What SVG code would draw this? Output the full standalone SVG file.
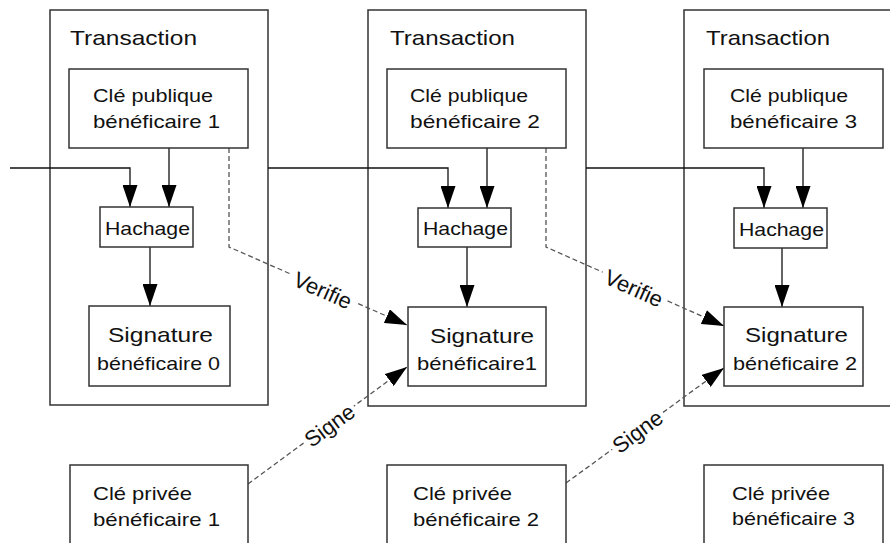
<svg xmlns="http://www.w3.org/2000/svg" width="890" height="543" viewBox="0 0 890 543">
<defs>
<style>
.box{fill:#fff;stroke:#333;stroke-width:1.5}
.t{font-family:"Liberation Sans",Arial,sans-serif;fill:#111}
.title{font-size:21px}
.n{font-size:18.5px}
.sig{font-size:21px}
.ben{font-size:19px}
.lbl{font-size:22px;text-anchor:middle}
.edge{fill:none;stroke:#111;stroke-width:1.3}
.dash{fill:none;stroke:#555;stroke-width:1.3;stroke-dasharray:5 3}
</style>
<marker id="arr" markerUnits="userSpaceOnUse" markerWidth="22" markerHeight="15" refX="22" refY="7.5" orient="auto">
<path d="M0,0 L22,7.5 L0,15 z" fill="#000"/>
</marker>
</defs>
<rect width="890" height="543" fill="#fff"/>

<g id="transaction1"><rect class="box" x="50" y="10" width="218" height="395"/><text class="t title" x="70" y="45" textLength="127" lengthAdjust="spacingAndGlyphs">Transaction</text></g>
<g id="transaction2"><rect class="box" x="368" y="10" width="218" height="396"/><text class="t title" x="390" y="45" textLength="125" lengthAdjust="spacingAndGlyphs">Transaction</text></g>
<g id="transaction3"><rect class="box" x="684" y="10" width="240" height="396"/><text class="t title" x="706" y="45" textLength="124" lengthAdjust="spacingAndGlyphs">Transaction</text></g>

<g id="connectors">
<path class="edge" d="M10,168 H130 V207" marker-end="url(#arr)"/>
<path class="edge" d="M169,148 V207" marker-end="url(#arr)"/>
<path class="edge" d="M150,247 V306" marker-end="url(#arr)"/>
<path class="edge" d="M268,168 H448 V208" marker-end="url(#arr)"/>
<path class="edge" d="M487,148 V208" marker-end="url(#arr)"/>
<path class="edge" d="M467,247 V307" marker-end="url(#arr)"/>
<path class="edge" d="M586,168 H764 V208" marker-end="url(#arr)"/>
<path class="edge" d="M803,148 V208" marker-end="url(#arr)"/>
<path class="edge" d="M782,248 V307" marker-end="url(#arr)"/>
<path class="dash" d="M229,148 V247 L407,325" marker-end="url(#arr)"/>
<path class="dash" d="M546,148 V247 L724,326" marker-end="url(#arr)"/>
<path class="dash" d="M248,484 L407,367" marker-end="url(#arr)"/>
<path class="dash" d="M566,483 L724,368" marker-end="url(#arr)"/>
<g transform="translate(323,290) rotate(23.8)"><rect x="-35" y="-11" width="70" height="22" fill="#fff"/><text class="t lbl" x="0" y="8">Verifie</text></g>
<g transform="translate(634,288) rotate(24)"><rect x="-35" y="-11" width="70" height="22" fill="#fff"/><text class="t lbl" x="0" y="8">Verifie</text></g>
<g transform="translate(330,426) rotate(-36.5)"><rect x="-31" y="-11" width="62" height="22" fill="#fff"/><text class="t lbl" x="0" y="7">Signe</text></g>
<g transform="translate(638,432) rotate(-36.6)"><rect x="-31" y="-11" width="62" height="22" fill="#fff"/><text class="t lbl" x="0" y="7">Signe</text></g>
</g>

<g id="pub1"><rect class="box" x="69" y="69" width="179" height="79"/><text class="t n" x="93" y="102" textLength="120" lengthAdjust="spacingAndGlyphs">Clé publique</text><text class="t n" x="93" y="128" textLength="127" lengthAdjust="spacingAndGlyphs">bénéficaire 1</text></g>
<g id="pub2"><rect class="box" x="387" y="69" width="179" height="79"/><text class="t n" x="410" y="102" textLength="118" lengthAdjust="spacingAndGlyphs">Clé publique</text><text class="t n" x="410" y="128" textLength="130" lengthAdjust="spacingAndGlyphs">bénéficaire 2</text></g>
<g id="pub3"><rect class="box" x="704" y="69" width="179" height="79"/><text class="t n" x="730" y="102" textLength="118" lengthAdjust="spacingAndGlyphs">Clé publique</text><text class="t n" x="730" y="128" textLength="127" lengthAdjust="spacingAndGlyphs">bénéficaire 3</text></g>

<g id="hash1"><rect class="box" x="100" y="207" width="93" height="40"/><text class="t n" x="105" y="235" textLength="85" lengthAdjust="spacingAndGlyphs">Hachage</text></g>
<g id="hash2"><rect class="box" x="418" y="208" width="93" height="39"/><text class="t n" x="423" y="235" textLength="85" lengthAdjust="spacingAndGlyphs">Hachage</text></g>
<g id="hash3"><rect class="box" x="734" y="208" width="93" height="40"/><text class="t n" x="739" y="236" textLength="85" lengthAdjust="spacingAndGlyphs">Hachage</text></g>

<g id="sig0"><rect class="box" x="89" y="306" width="141" height="80"/><text class="t sig" x="108" y="342" textLength="105" lengthAdjust="spacingAndGlyphs">Signature</text><text class="t ben" x="97" y="370" textLength="123" lengthAdjust="spacingAndGlyphs">bénéficaire 0</text></g>
<g id="sig1"><rect class="box" x="408" y="307" width="138" height="79"/><text class="t sig" x="430" y="343" textLength="104" lengthAdjust="spacingAndGlyphs">Signature</text><text class="t ben" x="417" y="370" textLength="120" lengthAdjust="spacingAndGlyphs">bénéficaire1</text></g>
<g id="sig2"><rect class="box" x="724" y="307" width="139" height="79"/><text class="t sig" x="745" y="342" textLength="103" lengthAdjust="spacingAndGlyphs">Signature</text><text class="t ben" x="733" y="370" textLength="124" lengthAdjust="spacingAndGlyphs">bénéficaire 2</text></g>

<g id="priv1"><rect class="box" x="70" y="465" width="178" height="100"/><text class="t n" x="93" y="500" textLength="99" lengthAdjust="spacingAndGlyphs">Clé privée</text><text class="t n" x="93" y="526" textLength="127" lengthAdjust="spacingAndGlyphs">bénéficaire 1</text></g>
<g id="priv2"><rect class="box" x="387" y="465" width="179" height="100"/><text class="t n" x="413" y="500" textLength="99" lengthAdjust="spacingAndGlyphs">Clé privée</text><text class="t n" x="413" y="526" textLength="126" lengthAdjust="spacingAndGlyphs">bénéficaire 2</text></g>
<g id="priv3"><rect class="box" x="704" y="465" width="179" height="100"/><text class="t n" x="732" y="500" textLength="98" lengthAdjust="spacingAndGlyphs">Clé privée</text><text class="t n" x="732" y="525" textLength="123" lengthAdjust="spacingAndGlyphs">bénéficaire 3</text></g>
</svg>
